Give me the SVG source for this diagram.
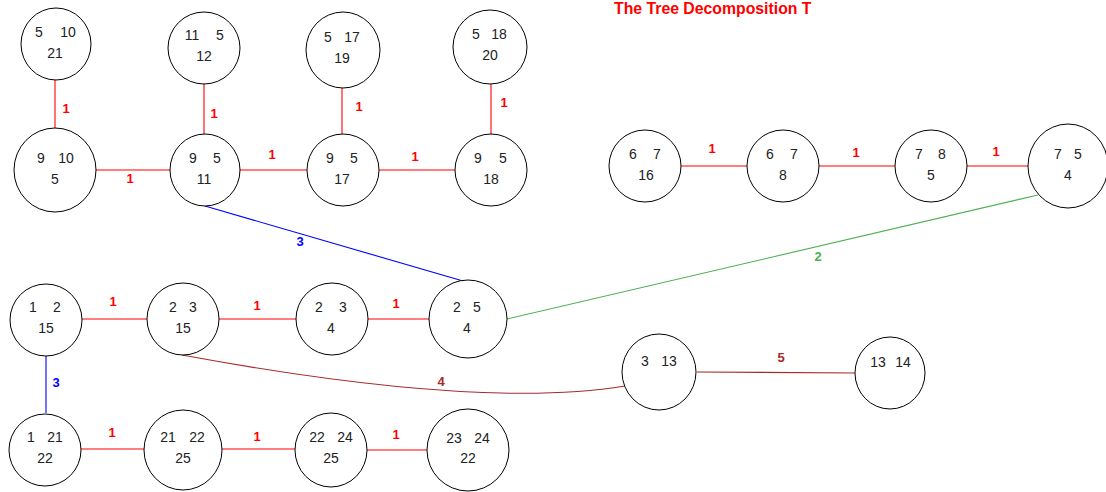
<svg xmlns="http://www.w3.org/2000/svg" width="1106" height="492" viewBox="0 0 1106 492">
<style>
.n ellipse{fill:#fff;stroke:#000;stroke-width:1}
.n text{font-family:"Liberation Sans",Arial,sans-serif;font-size:14px;fill:#222;text-anchor:middle}
.e line,.e path{fill:none;stroke-width:1.1}
.r{stroke:#ff0000}
.b{stroke:#0000ff}
.g{stroke:#4caf50}
.d{stroke:#a52a2a}
.l{font-family:"Liberation Sans",Arial,sans-serif;font-size:13px;font-weight:bold;text-anchor:middle}
.lr{fill:#ff0000}.lb{fill:#0000ff}.lg{fill:#4caf50}.ld{fill:#a52a2a}
</style>
<rect width="1106" height="492" fill="#fff"/>
<text x="614" y="14" font-family="Liberation Sans,Arial,sans-serif" font-size="15.8" font-weight="bold" fill="#ff0000">The Tree Decomposition T</text>
<g id="connectors" class="e">
<line class="r" x1="55" y1="80" x2="55" y2="128"/>
<line class="r" x1="204" y1="84" x2="204" y2="134"/>
<line class="r" x1="342" y1="88" x2="342" y2="134"/>
<line class="r" x1="491" y1="84" x2="491" y2="134"/>
<line class="r" x1="96" y1="170" x2="170" y2="170"/>
<line class="r" x1="240" y1="170" x2="307" y2="170"/>
<line class="r" x1="379" y1="170" x2="455" y2="170"/>
<line class="r" x1="681" y1="166" x2="747" y2="166"/>
<line class="r" x1="819" y1="166" x2="895" y2="166"/>
<line class="r" x1="967" y1="166" x2="1028" y2="166"/>
<line class="b" x1="205" y1="206" x2="463" y2="281"/>
<line class="g" x1="1038" y1="195" x2="507" y2="319"/>
<line class="r" x1="82" y1="319" x2="147" y2="319"/>
<line class="r" x1="219" y1="319" x2="296" y2="319"/>
<line class="r" x1="368" y1="319" x2="429" y2="319"/>
<line class="b" x1="46" y1="356" x2="46" y2="413"/>
<path class="d" d="M182,355 Q480,410 625,386"/>
<line class="d" x1="697" y1="372" x2="855" y2="373"/>
<line class="r" x1="81" y1="449" x2="144" y2="449"/>
<line class="r" x1="222" y1="449" x2="295" y2="449"/>
<line class="r" x1="367" y1="450" x2="427" y2="450"/>
<text class="l lr" x="66" y="113">1</text>
<text class="l lr" x="214" y="118">1</text>
<text class="l lr" x="359" y="111">1</text>
<text class="l lr" x="504" y="107">1</text>
<text class="l lr" x="130" y="183">1</text>
<text class="l lr" x="272" y="159">1</text>
<text class="l lr" x="415" y="161">1</text>
<text class="l lr" x="712" y="153">1</text>
<text class="l lr" x="856" y="157">1</text>
<text class="l lr" x="996" y="156">1</text>
<text class="l lb" x="300" y="246">3</text>
<text class="l lg" x="818" y="261">2</text>
<text class="l lr" x="113" y="306">1</text>
<text class="l lr" x="257" y="310">1</text>
<text class="l lr" x="396" y="308">1</text>
<text class="l lb" x="56" y="387">3</text>
<text class="l ld" x="441" y="386">4</text>
<text class="l ld" x="781" y="362">5</text>
<text class="l lr" x="112" y="437">1</text>
<text class="l lr" x="257" y="441">1</text>
<text class="l lr" x="396" y="439">1</text>
</g>
<g id="nA" class="n"><ellipse cx="56" cy="44" rx="35" ry="36"/><text x="39" y="37">5</text><text x="68" y="37">10</text><text x="55" y="58">21</text></g>
<g id="nB" class="n"><ellipse cx="204" cy="48" rx="36" ry="36"/><text x="192" y="40">11</text><text x="220" y="40">5</text><text x="204" y="61">12</text></g>
<g id="nC" class="n"><ellipse cx="343" cy="50" rx="37" ry="38"/><text x="328" y="42">5</text><text x="352" y="42">17</text><text x="342" y="63">19</text></g>
<g id="nD" class="n"><ellipse cx="490" cy="47" rx="37" ry="37"/><text x="476" y="39">5</text><text x="499" y="39">18</text><text x="490" y="60">20</text></g>
<g id="nE" class="n"><ellipse cx="55" cy="170" rx="41" ry="42"/><text x="41" y="163">9</text><text x="66" y="163">10</text><text x="55" y="184">5</text></g>
<g id="nF" class="n"><ellipse cx="205" cy="170" rx="35" ry="36"/><text x="193" y="163">9</text><text x="217" y="163">5</text><text x="204" y="184">11</text></g>
<g id="nG" class="n"><ellipse cx="343" cy="170" rx="36" ry="36"/><text x="330" y="163">9</text><text x="354" y="163">5</text><text x="342" y="184">17</text></g>
<g id="nH" class="n"><ellipse cx="491" cy="170" rx="36" ry="36"/><text x="478" y="163">9</text><text x="503" y="163">5</text><text x="491" y="184">18</text></g>
<g id="nI" class="n"><ellipse cx="645" cy="166" rx="36" ry="36"/><text x="633" y="159">6</text><text x="657" y="159">7</text><text x="646" y="180">16</text></g>
<g id="nJ" class="n"><ellipse cx="783" cy="166" rx="36" ry="36"/><text x="770" y="159">6</text><text x="794" y="159">7</text><text x="783" y="180">8</text></g>
<g id="nK" class="n"><ellipse cx="931" cy="166" rx="36" ry="36"/><text x="919" y="159">7</text><text x="942" y="159">8</text><text x="931" y="180">5</text></g>
<g id="nL" class="n"><ellipse cx="1068" cy="166" rx="40" ry="42"/><text x="1058" y="159">7</text><text x="1078" y="159">5</text><text x="1068" y="180">4</text></g>
<g id="nM" class="n"><ellipse cx="46" cy="320" rx="36" ry="36"/><text x="33" y="312">1</text><text x="57" y="312">2</text><text x="46" y="333">15</text></g>
<g id="nN" class="n"><ellipse cx="183" cy="319" rx="36" ry="36"/><text x="173" y="312">2</text><text x="193" y="312">3</text><text x="183" y="333">15</text></g>
<g id="nO" class="n"><ellipse cx="332" cy="319" rx="36" ry="36"/><text x="319" y="312">2</text><text x="343" y="312">3</text><text x="331" y="333">4</text></g>
<g id="nP" class="n"><ellipse cx="468" cy="319" rx="39" ry="39"/><text x="457" y="312">2</text><text x="477" y="312">5</text><text x="467" y="333">4</text></g>
<g id="nQ" class="n"><ellipse cx="659" cy="372" rx="37" ry="38"/><text x="645" y="366">3</text><text x="669" y="366">13</text></g>
<g id="nR" class="n"><ellipse cx="890" cy="373" rx="35" ry="36"/><text x="878" y="367">13</text><text x="903" y="367">14</text></g>
<g id="nS" class="n"><ellipse cx="45" cy="450" rx="36" ry="36"/><text x="31" y="442">1</text><text x="55" y="442">21</text><text x="45" y="463">22</text></g>
<g id="nT" class="n"><ellipse cx="183" cy="450" rx="39" ry="40"/><text x="168" y="442">21</text><text x="197" y="442">22</text><text x="183" y="463">25</text></g>
<g id="nU" class="n"><ellipse cx="331" cy="450" rx="36" ry="37"/><text x="317" y="442">22</text><text x="345" y="442">24</text><text x="331" y="463">25</text></g>
<g id="nV" class="n"><ellipse cx="468" cy="450" rx="41" ry="41"/><text x="454" y="443">23</text><text x="482" y="443">24</text><text x="468" y="463">22</text></g>
</svg>
